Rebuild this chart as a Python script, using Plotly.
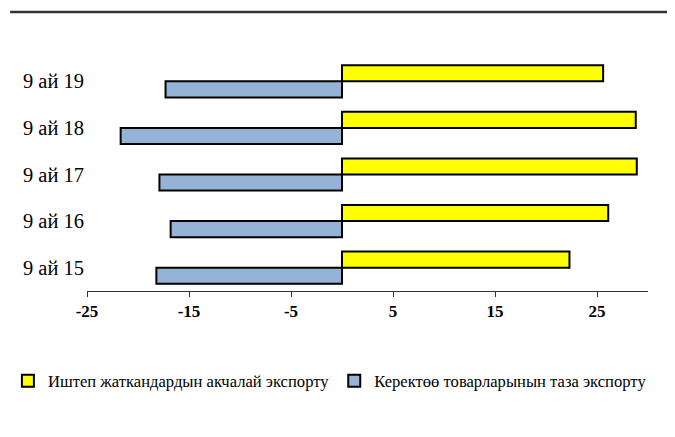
import plotly.graph_objects as go

categories = ["9 ай 15", "9 ай 16", "9 ай 17", "9 ай 18", "9 ай 19"]
yellow_name = "Иштеп жаткандардын акчалай экспорту"
blue_name = "Керектөө товарларынын таза экспорту"
yellow_vals = [22.3, 26.1, 28.9, 28.8, 25.6]
blue_vals = [-18.2, -16.8, -17.9, -21.7, -17.3]
x_ticks = [-25, -15, -5, 5, 15, 25]
x_tick_labels = ["-25", "-15", "-5", "5", "15", "25"]
x_range = [-25, 30]

FONT = "Liberation Serif"

fig = go.Figure()
fig.add_trace(go.Bar(
    y=categories, x=blue_vals, orientation="h", name=blue_name,
    marker=dict(color="#95B3D7", line=dict(color="black", width=2)),
    legendrank=2,
))
fig.add_trace(go.Bar(
    y=categories, x=yellow_vals, orientation="h", name=yellow_name,
    marker=dict(color="#FFFF00", line=dict(color="black", width=2)),
    legendrank=1,
))

zero_pos = (0 - x_range[0]) / (x_range[1] - x_range[0])
n = len(categories)

fig.update_layout(
    width=667, height=429,
    margin=dict(l=79, r=27, t=50, b=146, autoexpand=False),
    paper_bgcolor="white", plot_bgcolor="white",
    barmode="group", bargap=0.31, bargroupgap=0,
    font=dict(family=FONT, color="black"),
    showlegend=True,
    legend=dict(orientation="h", x=-0.141, xanchor="left", y=-0.386, yanchor="middle",
                font=dict(size=16.6, family=FONT), itemwidth=30, traceorder="normal",
                tracegroupgap=0),
    xaxis=dict(range=x_range, tickvals=x_ticks, ticktext=x_tick_labels,
               ticks="outside", ticklen=5, automargin=False,
               tickcolor="#333", showline=True, linecolor="#333", linewidth=1,
               showgrid=False, zeroline=False,
               tickfont=dict(size=17, family=FONT, color="black", weight="bold")),
    yaxis=dict(type="category", range=[-0.5, n - 0.5], showgrid=False, zeroline=False,
               showline=False, ticks="", tickfont=dict(size=20.5, family=FONT),
               ticklabelstandoff=2, automargin=False),
    yaxis2=dict(overlaying="y", anchor="free", position=zero_pos,
                range=[-0.5, n - 0.5], tickvals=[i - 0.5 for i in range(n + 1)],
                ticks="outside", ticklen=5, tickcolor="#333", showticklabels=False,
                showline=True, linecolor="black", linewidth=1.5, automargin=False,
                showgrid=False, zeroline=False),
    shapes=[dict(type="line", xref="paper", yref="paper", x0=-0.137, x1=1.048,
                 y0=1.197, y1=1.197, line=dict(color="#333", width=2.5))],
)

fig.write_html("out.html")
